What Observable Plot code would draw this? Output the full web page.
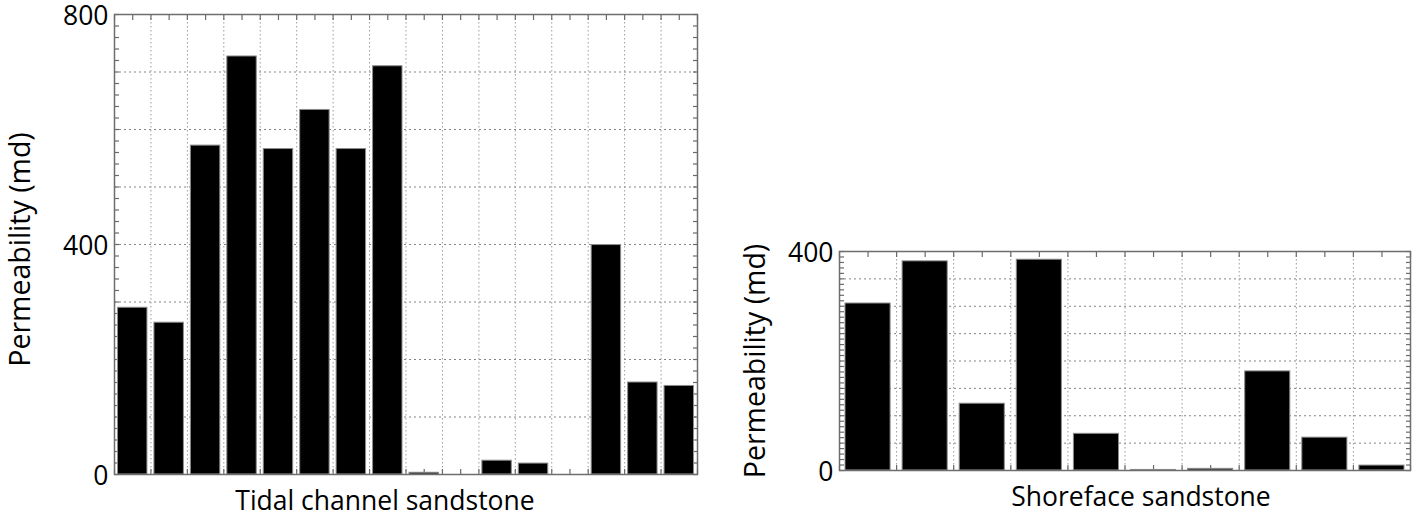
<!DOCTYPE html>
<html>
<head>
<meta charset="utf-8">
<script src="https://cdn.jsdelivr.net/npm/d3@7"></script>
<script src="https://cdn.jsdelivr.net/npm/@observablehq/plot@0.6"></script>
<style>
  html, body { margin: 0; padding: 0; background: #fff; }
  #wrap { display: flex; width: 1420px; height: 520px; }
  #wrap svg { display: block; overflow: visible; }
</style>
</head>
<body>
<div id="wrap"></div>
<script>
// ---- Data ----
const tidalSamples = d3.range(1, 17);
const tidalPerm = [290, 264, 572, 727, 566, 634, 566, 710, 3, 0, 24, 19, 0, 399, 160, 154];
const tidalTicks = [0, 400, 800];
const tidalLabel = "Tidal channel sandstone";

const shoreSamples = d3.range(1, 11);
const shorePerm = [305, 382, 122, 385, 67, 1, 3, 181, 60, 9];
const shoreTicks = [0, 400];
const shoreLabel = "Shoreface sandstone";

const yLabel = "Permeability (md)";

const FONT = "Open Sans";

function panel({samples, values, yMax, yTicks, gridStep, minorStep, label,
                width, marginLeft, marginRight, marginTop, marginBottom,
                inset, xLabelDx, yLabelDx, yLabelDy}) {
  const n = samples.length;
  const rows = samples.map((s, i) => ({sample: s, index: i, value: values[i]}));
  const centers = d3.range(n).map(i => i + 0.5);
  const bounds = d3.range(0, n + 1);
  const edgeTicks = centers.concat(bounds);
  const gridStyle = {stroke: "#858585", strokeOpacity: 1, strokeWidth: 1, strokeDasharray: "2,3"};
  const vGridStyle = {stroke: "#9a9a9a", strokeOpacity: 1, strokeWidth: 1, strokeDasharray: "1.5,2.5"};
  const tickStyle = {stroke: "#6a6a6a", strokeWidth: 1.2, fill: "none", label: null};
  return Plot.plot({
    width, height: 520,
    marginLeft, marginRight, marginTop, marginBottom,
    style: {fontFamily: FONT, fontSize: "26.5px", color: "#000", background: "#fff", overflow: "visible"},
    x: {domain: [0, n]},
    y: {domain: [0, yMax]},
    marks: [
      Plot.gridY(d3.range(gridStep, yMax, gridStep), gridStyle),
      Plot.gridX(d3.range(1, n), vGridStyle),
      Plot.axisY({anchor: "left", ticks: d3.range(0, yMax + 1, minorStep), tickSize: -5, ...tickStyle}),
      Plot.axisY({anchor: "right", ticks: d3.range(0, yMax + 1, minorStep), tickSize: -5, ...tickStyle}),
      Plot.axisX({anchor: "top", ticks: edgeTicks, tickSize: -5, ...tickStyle}),
      Plot.axisX({anchor: "bottom", ticks: edgeTicks, tickSize: -5, ...tickStyle}),
      Plot.rectY(rows, {
        x1: "index", x2: d => d.index + 1, y1: 0, y2: "value",
        insetLeft: inset, insetRight: inset,
        fill: "#000", stroke: "#8c8c8c", strokeWidth: 1
      }),
      Plot.frame({stroke: "#6e6e6e", strokeWidth: 1.5}),
      Plot.axisY({anchor: "left", ticks: yTicks, tickSize: 0, tickPadding: 6, label: null, fontSize: 26.5, dy: 2}),
      Plot.text([label], {text: d => d, frameAnchor: "bottom", textAnchor: "middle", lineAnchor: "bottom", dy: 35, dx: xLabelDx, fontSize: 26.5}),
      Plot.text([yLabel], {text: d => d, frameAnchor: "left", textAnchor: "middle", lineAnchor: "middle", rotate: -90, dx: yLabelDx, dy: yLabelDy, fontSize: 28.5})
    ]
  });
}

const wrap = document.getElementById("wrap");
wrap.append(panel({
  samples: tidalSamples, values: tidalPerm, yMax: 800, yTicks: tidalTicks,
  gridStep: 100, minorStep: 20, label: tidalLabel,
  width: 720, marginLeft: 114, marginRight: 23, marginTop: 14, marginBottom: 46,
  inset: 3.5, xLabelDx: -21, yLabelDx: -94, yLabelDy: 5
}));
wrap.append(panel({
  samples: shoreSamples, values: shorePerm, yMax: 400, yTicks: shoreTicks,
  gridStep: 50, minorStep: 10, label: shoreLabel,
  width: 700, marginLeft: 119, marginRight: 10, marginTop: 251, marginBottom: 50,
  inset: 6, xLabelDx: 16, yLabelDx: -84, yLabelDy: 0
}));
</script>
</body>
</html>
